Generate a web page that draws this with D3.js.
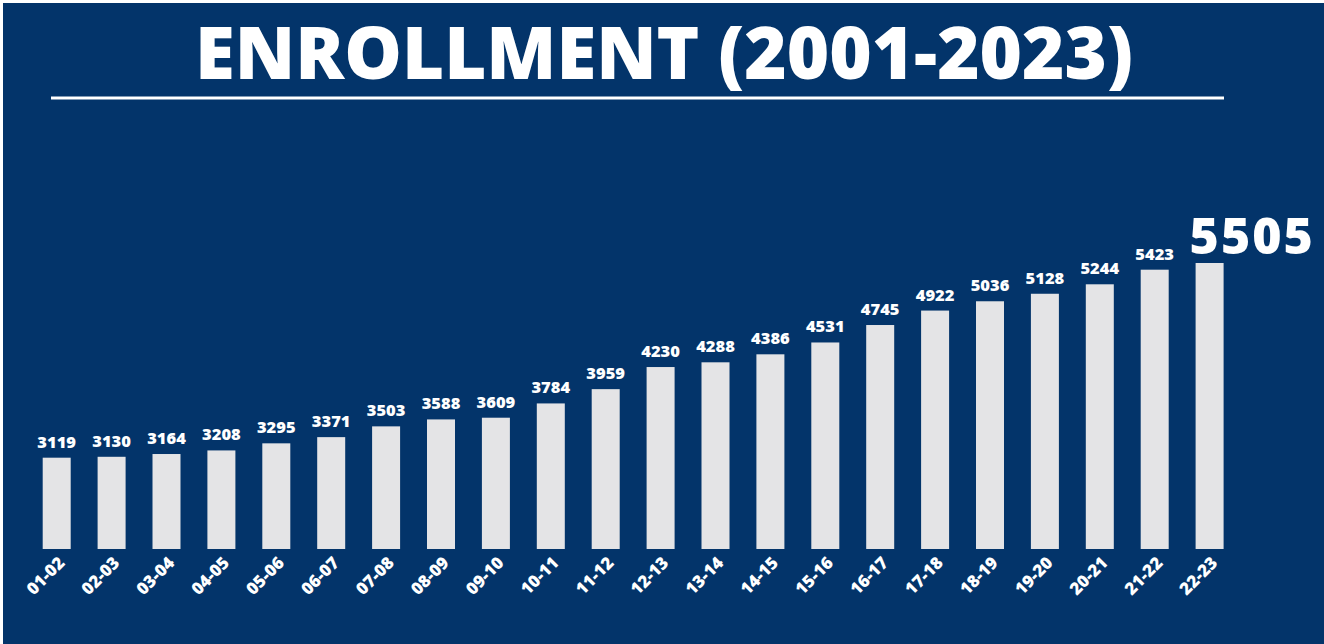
<!DOCTYPE html>
<html>
<head>
<meta charset="utf-8">
<script src="https://cdn.jsdelivr.net/npm/d3@7"></script>
<style>
  html, body { margin: 0; padding: 0; background: #ffffff; }
  svg { display: block; }
</style>
</head>
<body>
<div id="chart"></div>
<script>
// School years and enrollment counts
const years = ["01-02","02-03","03-04","04-05","05-06","06-07","07-08","08-09","09-10","10-11","11-12",
               "12-13","13-14","14-15","15-16","16-17","17-18","18-19","19-20","20-21","21-22","22-23"];
const enrollment = [3119,3130,3164,3208,3295,3371,3503,3588,3609,3784,3959,
                    4230,4288,4386,4531,4745,4922,5036,5128,5244,5423,5505];
const titleText = "ENROLLMENT (2001-2023)";

const W = 1324, H = 644;
const bg = "#03346a";
const barColor = "#e4e4e6";
const font = "'Open Sans', sans-serif";

const svg = d3.select("#chart").append("svg")
  .attr("width", W).attr("height", H);

// thin white frame along the top and left edges, navy panel behind everything
svg.append("rect").attr("width", W).attr("height", H).attr("fill", "#ffffff");
svg.append("rect").attr("x", 3).attr("y", 3).attr("width", W - 3).attr("height", H - 3).attr("fill", bg);

// title and rule
svg.append("text")
  .attr("x", 195).attr("y", 79)
  .attr("textLength", 938).attr("lengthAdjust", "spacingAndGlyphs")
  .attr("font-family", font).attr("font-weight", 800).attr("font-size", 72)
  .attr("fill", "#ffffff")
  .text(titleText);

svg.append("line")
  .attr("x1", 51).attr("x2", 1224).attr("y1", 98).attr("y2", 98)
  .attr("stroke", "#ffffff").attr("stroke-width", 3);

// scales
const x = d3.scaleBand()
  .domain(years)
  .range([29.25, 1237.05])
  .paddingInner(0.49)
  .paddingOuter(0.245);

const y = d3.scaleLinear()
  .domain([2000, 5505])
  .range([549, 263]);

const data = years.map((k, i) => ({ year: k, value: enrollment[i] }));
const last = data.length - 1;

// bars
svg.append("g").selectAll("rect")
  .data(data).join("rect")
  .attr("x", d => x(d.year))
  .attr("y", d => y(d.value))
  .attr("width", x.bandwidth())
  .attr("height", d => y.range()[0] - y(d.value))
  .attr("fill", barColor);

// value labels; the latest year is called out in a large figure
svg.append("g").selectAll("text")
  .data(data).join("text")
  .attr("x", (d, i) => i === last ? x(d.year) - 6 : x(d.year) + x.bandwidth() / 2)
  .attr("y", (d, i) => y(d.value) - (i === last ? 9 : 10))
  .attr("text-anchor", (d, i) => i === last ? "start" : "middle")
  .attr("font-family", font).attr("font-weight", 800)
  .attr("font-size", (d, i) => i === last ? 50 : 16.5)
  .attr("letter-spacing", (d, i) => i === last ? 2 : 0)
  .attr("fill", "#ffffff")
  .text(d => d.value);

// category axis with rotated labels
const axis = svg.append("g")
  .attr("transform", `translate(0,${y.range()[0]})`)
  .call(d3.axisBottom(x).tickSize(0).tickPadding(0));
axis.select(".domain").remove();
axis.selectAll("text")
  .attr("font-family", font).attr("font-weight", 800).attr("font-size", 17)
  .attr("fill", "#ffffff")
  .attr("text-anchor", "end")
  .attr("dy", null)
  .attr("transform", "translate(9,15) rotate(-45)");
</script>
</body>
</html>
